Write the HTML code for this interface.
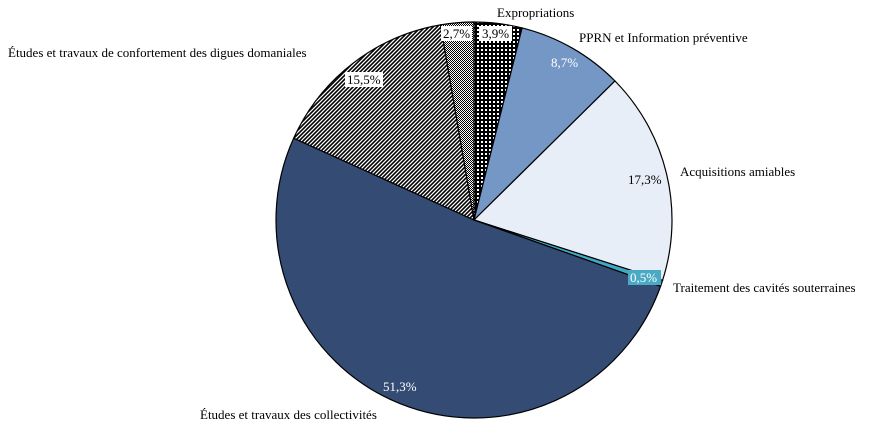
<!DOCTYPE html>
<html><head><meta charset="utf-8">
<style>
html,body{margin:0;padding:0;background:#fff;}
svg text{font-family:"Liberation Serif",serif;font-size:13px;}
</style></head>
<body>
<svg width="892" height="431" viewBox="0 0 892 431">
<defs>
<pattern id="pChecker" width="2" height="2" patternUnits="userSpaceOnUse">
<rect width="2" height="2" fill="#fff"/><rect width="1" height="1" fill="#000"/><rect x="1" y="1" width="1" height="1" fill="#000"/>
</pattern>
<pattern id="pDots" width="4" height="4" patternUnits="userSpaceOnUse">
<rect width="4" height="4" fill="#000"/><rect x="1" y="1" width="2" height="2" fill="#fff"/>
</pattern>
<pattern id="pHatch" width="4" height="4" patternUnits="userSpaceOnUse">
<rect width="4" height="4" fill="#fff"/><path d="M-1,5 L5,-1 M-1,1 L1,-1 M3,5 L5,3" stroke="#000" stroke-width="1.6"/>
</pattern>
</defs>
<g id="slices"></g>
<g id="labels">
<text x="497" y="17">Expropriations</text>
<text x="579" y="42">PPRN et Information préventive</text>
<text x="680" y="176">Acquisitions amiables</text>
<text x="673" y="292">Traitement des cavités souterraines</text>
<text x="200" y="419">Études et travaux des collectivités</text>
<text x="8" y="57">Études et travaux de confortement des digues domaniales</text>

<rect x="441" y="26" width="31" height="15" fill="#fff"/>
<text x="443" y="38">2,7%</text>
<rect x="479" y="26" width="33" height="15" fill="#fff"/>
<text x="482" y="38">3,9%</text>
<text x="551" y="67" fill="#fff">8,7%</text>
<text x="628" y="184" fill="#000">17,3%</text>
<rect x="628" y="270" width="33" height="15" fill="#4aaac4"/>
<text x="630" y="282" fill="#fff">0,5%</text>
<text x="383" y="391" fill="#fff">51,3%</text>
<rect x="345" y="72" width="38" height="15" fill="#fff"/>
<text x="347" y="84">15,5%</text>
</g>
</svg>
<script>
const categories = ["Expropriations","PPRN et Information préventive","Acquisitions amiables","Traitement des cavités souterraines","Études et travaux des collectivités","Études et travaux de confortement des digues domaniales","Autres"];
const values = [3.9, 8.7, 17.3, 0.5, 51.3, 15.5, 2.7];
const fills = ["url(#pDots)","#7497c6","#e8eef8","#3fa9c2","#344c74","url(#pHatch)","url(#pChecker)"];
const cx=474, cy=220, r=198;
const total = values.reduce((a,b)=>a+b,0);
const g = document.getElementById('slices');
let acc = 0;
function pt(frac){const a=frac*2*Math.PI;return [cx+r*Math.sin(a), cy-r*Math.cos(a)];}
values.forEach((v,i)=>{
  const f0=acc/total, f1=(acc+v)/total; acc+=v;
  const p0=pt(f0), p1=pt(f1);
  const large=(f1-f0)>0.5?1:0;
  const p=document.createElementNS('http://www.w3.org/2000/svg','path');
  p.setAttribute('d',`M${cx},${cy} L${p0[0]},${p0[1]} A${r},${r} 0 ${large} 1 ${p1[0]},${p1[1]} Z`);
  p.setAttribute('fill',fills[i]);
  p.setAttribute('stroke','#000');
  p.setAttribute('stroke-width','1.2');
  
  
  g.appendChild(p);
});
</script>
</body></html>
